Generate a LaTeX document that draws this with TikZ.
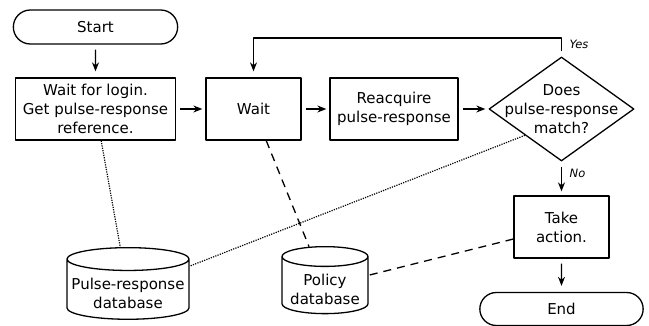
\documentclass[tikz,border=0pt]{standalone}
\usepackage{fontspec}
\setmainfont{DejaVu Sans}
\usetikzlibrary{shapes.geometric,shapes.misc,arrows.meta}
\begin{document}
\begin{tikzpicture}[x=1pt, y=-1pt, line width=1.3pt, line join=round, >={Stealth[length=9pt,width=7pt]},
	font=\fontsize{15}{19}\selectfont,
	proc/.style={draw, rectangle, align=center, minimum height=62pt, inner sep=2pt},
	term/.style={draw, rounded rectangle, minimum height=34pt, minimum width=171pt},
	decide/.style={draw, diamond, align=center, inner sep=-20pt, minimum width=145pt, minimum height=104pt},
	db/.style={draw, cylinder, shape border rotate=90, align=center, minimum height=66pt, inner sep=0.5pt, anchor=north},
	lbl/.style={font=\fontsize{11.5}{13}\selectfont\itshape, anchor=west, inner sep=0pt},
	flow/.style={->, shorten <=5pt, shorten >=6pt},
	ref/.style={line width=1.2pt, dash pattern=on 1.2pt off 1.2pt},
	pol/.style={dash pattern=on 8pt off 6pt}]
	\useasboundingbox (0,0) rectangle (649,326);
	\node[term] (start) at (95.5,27) {Start};
	\node[proc, minimum width=160pt] (login) at (95.5,109) {Wait for login.\\Get pulse-response\\reference.};
	\node[proc, minimum width=95pt] (wait) at (253.5,109) {Wait};
	\node[proc, minimum width=128pt] (reacq) at (394,109) {Reacquire\\pulse-response};
	\node[decide] (match) at (561.5,109) {Does\\pulse-response\\match?};
	\node[proc, minimum width=95pt] (act) at (561.5,227) {Take\\action.};
	\node[term, minimum width=170pt, minimum height=33pt] (end) at (561.5,309) {End};
	\node[db, aspect=0.2, minimum width=122pt] (prdb) at (128,247) {\rule{0pt}{18pt}Pulse-response\\database};
	\node[db, aspect=0.28, minimum width=86pt] (poldb) at (325,246) {\rule{0pt}{18pt}Policy\\database};
	\coordinate (loop) at (253.5,38);
	\draw[flow] (start) -- (login);
	\draw[->, shorten <=4pt, shorten >=3pt] (login) -- (wait);
	\draw[->, shorten <=4pt, shorten >=3pt] (wait) -- (reacq);
	\draw[->, shorten <=4pt, shorten >=3pt] (reacq) -- (match);
	\draw[flow] (match.north) |- (loop) -- (wait);
	\draw[->, shorten <=5pt, shorten >=4pt] (match) -- (act);
	\draw[flow] (act) -- (end);
	\node[lbl] (yes) at (569,44) {Yes};
	\node[lbl] (no) at (569,173) {No};
	\draw[ref] (login) -- (prdb);
	\draw[ref] (match.south west) -- (prdb);
	\draw[pol] (wait) -- (poldb);
	\draw[pol] (act) -- (poldb);
\end{tikzpicture}
\end{document}
